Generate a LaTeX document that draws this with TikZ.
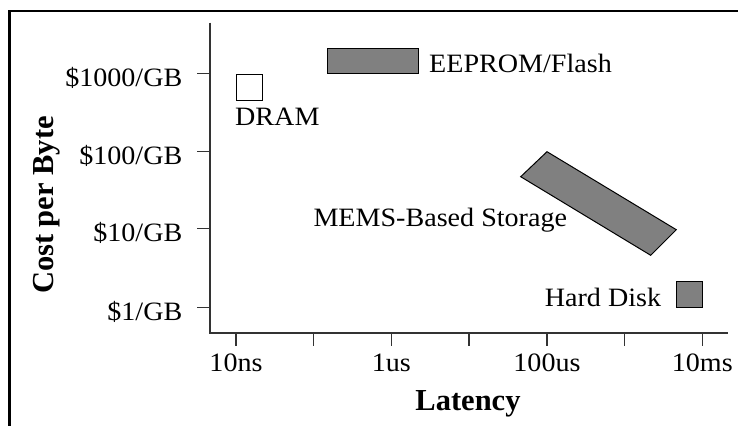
\documentclass[tikz,border=0pt]{standalone}
\usepackage{fontspec}
\setmainfont{Liberation Serif}
\newfontfamily\labfont{Liberation Serif}[FakeStretch=1.06]
\begin{document}
\begin{tikzpicture}[x=1pt,y=-1pt,
  lab/.style={inner sep=0pt,font=\labfont\fontsize{26.5}{30}\selectfont},
  axlab/.style={inner sep=0pt,font=\bfseries\fontsize{30.5}{34}\selectfont},
  axisline/.style={draw=black!80,line width=1.1pt},
  frameline/.style={draw=black,line width=2.8pt},
  graybox/.style={draw=black,line width=1pt,fill=black!50},
  whitebox/.style={draw=black,line width=1pt,fill=white}]
\useasboundingbox (0,0) rectangle (738,426);
% frame (top and left edges)
\coordinate (ftl) at (9.6,11);
\coordinate (ftr) at (738,11);
\coordinate (fbl) at (9.6,426);
\draw[frameline] (ftr) -- (ftl) -- (fbl);
% axes
\coordinate (ytop) at (210,22.5);
\coordinate (orig) at (210,333);
\coordinate (xend) at (728,333);
\draw[axisline] (ytop) -- (orig) -- (xend);
% y ticks and labels
\foreach \yy/\tx/\nm in {73.3/{\$1000/GB}/ya,151.7/{\$100/GB}/yb,228.7/{\$10/GB}/yc,307.3/{\$1/GB}/yd}{
  \coordinate (\nm t) at (197,\yy);
  \coordinate (\nm a) at (210,\yy);
  \draw[axisline] (\nm t) -- (\nm a);
  \node[lab,anchor=base east] (\nm) at (182.5,\yy+13) {\tx};
}
% x ticks
\foreach \xx/\nm in {236/xa,313.5/xb,391.3/xc,469/xd,547/xe,624.7/xf,702.3/xg}{
  \coordinate (\nm t) at (\xx,333);
  \coordinate (\nm b) at (\xx,345.5);
  \draw[axisline] (\nm t) -- (\nm b);
}
\node[lab,anchor=base] (l10ns) at (236,371.3) {10ns};
\node[lab,anchor=base] (l1us) at (391.3,371.3) {1us};
\node[lab,anchor=base] (l100us) at (547,371.3) {100us};
\node[lab,anchor=base] (l10ms) at (702.3,371.3) {10ms};
% axis titles
\node[axlab,anchor=base] (xtitle) at (468,410) {Latency};
\node[axlab,anchor=base,rotate=90] (ytitle) at (53.5,205) {Cost per Byte};
% DRAM
\draw[whitebox] (236,74) rectangle (262,100);
\node[lab,anchor=base west] (dram) at (235,125) {DRAM};
% EEPROM/Flash
\draw[graybox] (327,48.3) rectangle (418,73.3);
\node[lab,anchor=base west] (flash) at (429,72.7) {EEPROM/Flash};
% MEMS
\draw[graybox,line join=miter] (547,151.7) -- (676.3,229.7) -- (650.7,255.3) -- (520.7,176.7) -- cycle;
\node[lab,anchor=base west] (mems) at (313.3,226.7) {MEMS-Based Storage};
% Hard disk
\draw[graybox] (676.3,281.3) rectangle (702.3,307.3);
\node[lab,anchor=base east] (hdd) at (661.3,306.3) {Hard Disk};
\end{tikzpicture}
\end{document}
